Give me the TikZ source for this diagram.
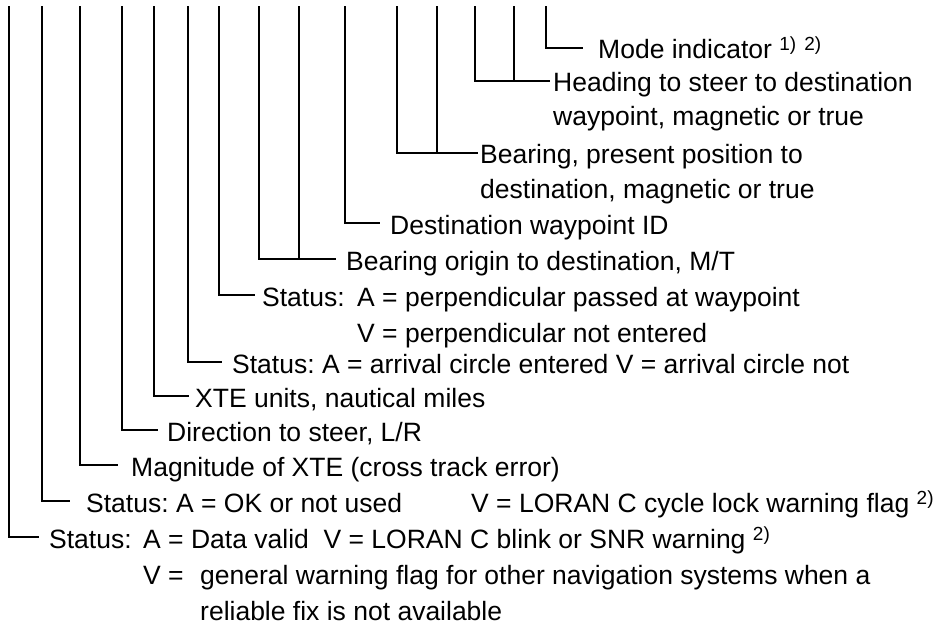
\documentclass[tikz,border=0pt]{standalone}
\usepackage{fontspec}
\setmainfont{Liberation Sans}
% small raised footnote marks after a field description
\newcommand\fnmark[1]{\raisebox{8pt}{\fontsize{19}{19}\selectfont #1}}
\begin{document}
\frenchspacing
\begin{tikzpicture}[x=1pt,y=-1pt,
  lbl/.style={anchor=base west, inner sep=0pt, font=\fontsize{26.5}{32}\selectfont},
  lead/.style={line width=1.6pt, line cap=rect}]
\useasboundingbox (0,0) rectangle (941,628);

% ---- field descriptions ----
\node[lbl] (mode)   at (598,59)  {Mode indicator \fnmark{1)}\hspace{8pt}\fnmark{2)}};
\node[lbl] (head1)  at (553,92)  {Heading to steer to destination};
\node[lbl] (head2)  at (553,126) {waypoint, magnetic or true};
\node[lbl] (brg1)   at (480,164) {Bearing, present position to};
\node[lbl] (brg2)   at (480,199) {destination, magnetic or true};
\node[lbl] (dest)   at (390,234) {Destination waypoint ID};
\node[lbl] (orig)   at (346,270) {Bearing origin to destination, M/T};
\node[lbl] (perp1)  at (262,306) {Status:};
\node[lbl] (perp2)  at (357,306) {A = perpendicular passed at waypoint};
\node[lbl] (perp3)  at (357,342) {V = perpendicular not entered};
\node[lbl] (arr)    at (232,373) {Status: A = arrival circle entered V = arrival circle not};
\node[lbl] (xte)    at (195,407) {XTE units, nautical miles};
\node[lbl] (dir)    at (167,441) {Direction to steer, L/R};
\node[lbl] (mag)    at (131,476) {Magnitude of XTE (cross track error)};
\node[lbl] (ok1)    at (86,512)  {Status: A = OK or not used};
\node[lbl] (ok2)    at (471,512) {V = LORAN C cycle lock warning flag \fnmark{2)}};
\node[lbl] (val1)   at (49,548)  {Status:};
\node[lbl] (val2)   at (143,548) {A = Data valid\ \ V = LORAN C blink or SNR warning \fnmark{2)}};
\node[lbl] (val3)   at (143,584) {V =};
\node[lbl] (val4)   at (200,584) {general warning flag for other navigation systems when a};
\node[lbl] (val5)   at (200,620) {reliable fix is not available};

% ---- tops of the field markers ----
\foreach \n/\x in {a/9, b/42, c/80, d/122, e/154, f/188, g/219, h/259, i/299,
                   j/345, k/397, l/437, m/475, n/514, o/546}
  \coordinate (t\n) at (\x,7);

% ---- ends of the leader lines ----
\coordinate (emode) at (582,48);
\coordinate (ehead) at (549,81);
\coordinate (ebrg)  at (477,153);
\coordinate (edest) at (379,223);
\coordinate (eorig) at (335,259);
\coordinate (eperp) at (254,295);
\coordinate (earr)  at (221,362);
\coordinate (exte)  at (188,396);
\coordinate (edir)  at (157,430);
\coordinate (emag)  at (117,465);
\coordinate (eok)   at (69,501);
\coordinate (eval)  at (38,537);

% ---- leader lines ----
\draw[lead] (to) |- (emode);
\draw[lead] (tm) |- (ehead);  \draw[lead] (tn) -- (tn |- ehead);
\draw[lead] (tk) |- (ebrg);   \draw[lead] (tl) -- (tl |- ebrg);
\draw[lead] (tj) |- (edest);
\draw[lead] (th) |- (eorig);  \draw[lead] (ti) -- (ti |- eorig);
\draw[lead] (tg) |- (eperp);
\draw[lead] (tf) |- (earr);
\draw[lead] (te) |- (exte);
\draw[lead] (td) |- (edir);
\draw[lead] (tc) |- (emag);
\draw[lead] (tb) |- (eok);
\draw[lead] (ta) |- (eval);
\end{tikzpicture}
\end{document}
